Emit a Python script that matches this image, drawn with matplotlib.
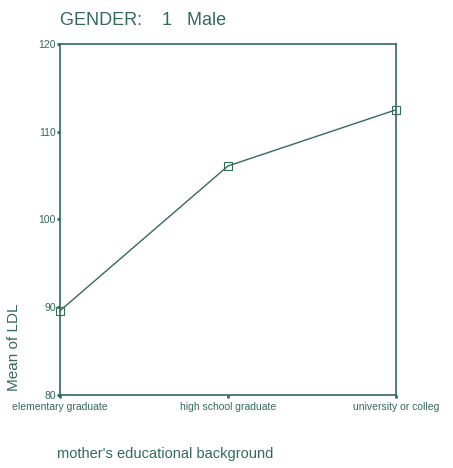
import matplotlib.pyplot as plt

plt.rcParams['font.family'] = ['Liberation Sans', 'DejaVu Sans']

categories = ['elementary graduate', 'high school graduate', 'university or colleg']
ldl_mean = [89.6, 106.1, 112.5]
y_ticks = [80, 90, 100, 110, 120]

col = '#336b55'

fig = plt.figure(figsize=(4.53, 4.68), dpi=100)
ax = fig.add_axes([0.1325, 0.156, 0.7415, 0.75])

x = list(range(len(categories)))
ax.plot(x, ldl_mean, color=col, lw=1.0, marker='s', ms=6,
        markerfacecolor='none', markeredgecolor=col, markeredgewidth=0.8,
        clip_on=False)

ax.set_xlim(0, 2)
ax.set_ylim(80, 120)
ax.set_yticks(y_ticks)
ax.set_xticks(x)
ax.set_xticklabels(categories, fontsize=7.5, color=col)
ax.tick_params(axis='y', labelsize=7.5, labelcolor=col, color=col,
               length=2, width=2, direction='out', pad=1)
ax.tick_params(axis='x', color=col, length=2, width=2, direction='out', pad=3)

for s in ax.spines.values():
    s.set_color(col)
    s.set_linewidth(1.2)

# axis titles
ax.set_ylabel('Mean of LDL', fontsize=11, color=col)
ax.yaxis.set_label_coords(-0.115, 0.135)
ax.set_xlabel("mother's educational background", fontsize=10.5, color=col)
ax.xaxis.set_label_coords(0.3125, -0.148)

fig.text(0.1325, 0.957, 'GENDER:    1   Male', fontsize=13, color=col,
         ha='left', va='center')

fig.savefig('out.png', dpi=100)
